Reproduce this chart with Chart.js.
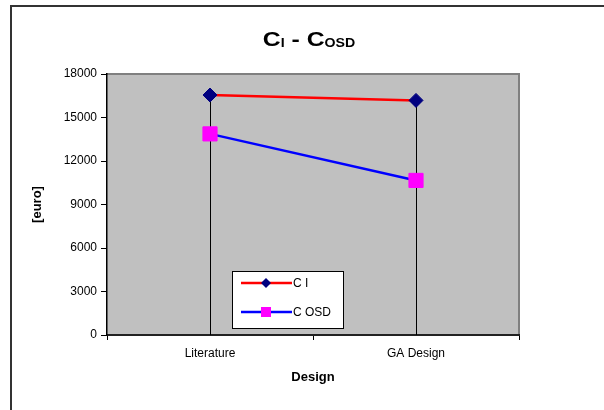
<!DOCTYPE html>
<html>
<head>
<meta charset="utf-8">
<script src="https://cdn.jsdelivr.net/npm/chart.js@4"></script>
<style>
  html, body { margin: 0; padding: 0; background: #fff; }
  #wrap { width: 604px; height: 410px; position: relative; }
</style>
</head>
<body>
<div id="wrap"><canvas id="grafico" width="604" height="410"></canvas></div>
<script>
// dados
const categorias = ['Literature', 'GA Design'];
const valoresCI = [16550, 16180];
const valoresCOSD = [13870, 10660];
const ticksY = [0, 3000, 6000, 9000, 12000, 15000, 18000];

const fonte = 'Arial, "Liberation Sans", sans-serif';

// fundo cinza, bordas e moldura externa
const fundoPlot = {
    id: 'fundoPlot',
    beforeDraw(chart) {
        const { ctx, chartArea: a } = chart;
        ctx.save();
        ctx.fillStyle = '#fff';
        ctx.fillRect(0, 0, chart.width, chart.height);
        // moldura (só esquerda e topo aparecem)
        ctx.strokeStyle = '#333';
        ctx.lineWidth = 2;
        ctx.beginPath();
        ctx.moveTo(11, chart.height);
        ctx.lineTo(11, 6);
        ctx.lineTo(chart.width, 6);
        ctx.stroke();
        ctx.fillStyle = '#c0c0c0';
        ctx.fillRect(a.left, a.top, a.right - a.left, a.bottom - a.top);
        ctx.strokeStyle = '#808080';
        ctx.lineWidth = 2;
        ctx.beginPath();
        ctx.moveTo(a.left, a.top);
        ctx.lineTo(a.right, a.top);
        ctx.lineTo(a.right, a.bottom);
        ctx.stroke();
        ctx.restore();
    }
};

// linhas de queda (drop lines) do ponto mais alto até o eixo
const linhasQueda = {
    id: 'linhasQueda',
    beforeDatasetsDraw(chart) {
        const { ctx, chartArea: a } = chart;
        const y = chart.scales.y;
        ctx.save();
        ctx.strokeStyle = '#000';
        ctx.lineWidth = 1;
        categorias.forEach((c, i) => {
            const maior = Math.max(valoresCI[i], valoresCOSD[i]);
            const x = Math.round(chart.scales.x.getPixelForValue(i)) + 0.5;
            ctx.beginPath();
            ctx.moveTo(x, y.getPixelForValue(maior));
            ctx.lineTo(x, a.bottom);
            ctx.stroke();
        });
        ctx.restore();
    }
};

// título com subscritos (um pouco esticado na horizontal como no original)
const tituloSub = {
    id: 'tituloSub',
    afterDraw(chart) {
        const ctx = chart.ctx;
        const esticar = 1.18;
        const partes = [
            { t: 'C', f: 'bold 21px ' + fonte, dy: 0 },
            { t: 'I', f: 'bold 12px ' + fonte, dy: 1 },
            { t: ' - C', f: 'bold 21px ' + fonte, dy: 0 },
            { t: 'OSD', f: 'bold 12px ' + fonte, dy: 1 }
        ];
        ctx.save();
        let total = 0;
        partes.forEach(p => { ctx.font = p.f; p.w = ctx.measureText(p.t).width; total += p.w; });
        ctx.translate(309 - total * esticar / 2, 46);
        ctx.scale(esticar, 1);
        let x = 0;
        ctx.fillStyle = '#000';
        ctx.textBaseline = 'alphabetic';
        partes.forEach(p => {
            ctx.font = p.f;
            ctx.fillText(p.t, x, p.dy);
            x += p.w;
        });
        ctx.restore();
    }
};

// legenda dentro da área do gráfico
const legendaBox = {
    id: 'legendaBox',
    afterDraw(chart) {
        const ctx = chart.ctx;
        const bx = 232, by = 271, bw = 111, bh = 57;
        ctx.save();
        ctx.fillStyle = '#fff';
        ctx.fillRect(bx, by, bw, bh);
        ctx.strokeStyle = '#000';
        ctx.lineWidth = 1;
        ctx.strokeRect(bx + 0.5, by + 0.5, bw, bh);
        chart.data.datasets.forEach((ds, i) => {
            const y = by + 12 + i * 29;
            ctx.strokeStyle = ds.borderColor;
            ctx.lineWidth = 2.5;
            ctx.beginPath();
            ctx.moveTo(241, y);
            ctx.lineTo(292, y);
            ctx.stroke();
            ctx.fillStyle = ds.pointBackgroundColor;
            if (ds.pointStyle === 'rectRot') {
                ctx.beginPath();
                ctx.moveTo(266, y - 5);
                ctx.lineTo(271, y);
                ctx.lineTo(266, y + 5);
                ctx.lineTo(261, y);
                ctx.closePath();
                ctx.fill();
            } else {
                ctx.fillRect(261, y - 5, 10, 10);
            }
            ctx.fillStyle = '#000';
            ctx.font = '12px ' + fonte;
            ctx.textBaseline = 'middle';
            ctx.fillText(ds.label, 293, y + 1);
        });
        ctx.restore();
    }
};

new Chart(document.getElementById('grafico'), {
    type: 'line',
    data: {
        labels: categorias,
        datasets: [{
            label: 'C I',
            data: valoresCI,
            borderColor: '#ff0000',
            borderWidth: 2.5,
            pointStyle: 'rectRot',
            pointRadius: 7,
            pointBackgroundColor: '#000080',
            pointBorderColor: '#000080',
            pointBorderWidth: 1
        }, {
            label: 'C OSD',
            data: valoresCOSD,
            borderColor: '#0000ff',
            borderWidth: 2.5,
            pointStyle: 'rect',
            pointRadius: 10,
            pointBackgroundColor: '#ff00ff',
            pointBorderColor: '#ff00ff',
            pointBorderWidth: 1
        }]
    },
    options: {
        responsive: false,
        animation: false,
        layout: { padding: { left: 0, right: 85, top: 74, bottom: 0 } },
        plugins: {
            legend: { display: false },
            title: { display: false },
            tooltip: { enabled: false }
        },
        scales: {
            x: {
                offset: true,
                grid: { offset: true, drawOnChartArea: false, tickLength: 5, color: '#000' },
                border: { color: '#222', width: 2 },
                ticks: { color: '#000', font: { family: fonte, size: 12 }, padding: 6 },
                title: { display: true, text: 'Design', color: '#000', font: { family: fonte, size: 13, weight: 'bold' }, padding: { top: 0, bottom: 25 } },
                afterFit(s) { s.height = 75; }
            },
            y: {
                min: 0,
                max: 18000,
                afterBuildTicks(s) { s.ticks = ticksY.map(v => ({ value: v })); },
                grid: { drawOnChartArea: false, tickLength: 6, color: '#000' },
                border: { color: '#000', width: 1.5 },
                ticks: { color: '#000', font: { family: fonte, size: 12 }, padding: 4, callback: v => String(v) },
                title: { display: true, text: '[euro]', color: '#000', font: { family: fonte, size: 13, weight: 'bold' }, padding: { top: 30, bottom: 0 } },
                afterFit(s) { s.width = 107; }
            }
        }
    },
    plugins: [fundoPlot, linhasQueda, tituloSub, legendaBox]
});
</script>
</body>
</html>
